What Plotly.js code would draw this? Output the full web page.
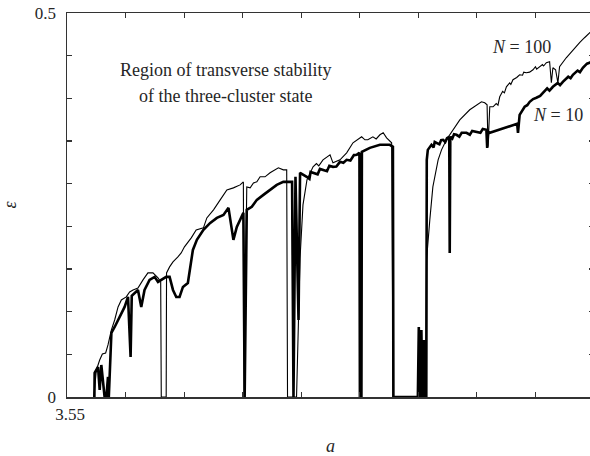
<!DOCTYPE html>
<html>
<head>
<meta charset="utf-8">
<script src="https://cdn.plot.ly/plotly-3.0.1.min.js"></script>
<style>
html,body{margin:0;padding:0;overflow:hidden;background:#fff;}
#chart{width:600px;height:456px;}
</style>
</head>
<body>
<div id="chart"></div>
<script>
// N = 100 (thin curve)
const aThin = [
  3.5728,3.5751,3.5779,3.5802,3.5830,3.5850,3.5879,3.5907,3.5936,3.5964,
  3.6006,3.6035,3.6064,3.6106,3.6149,3.6191,3.6234,3.6277,3.6300,3.6305,
  3.6347,3.6350,3.6376,3.6405,3.6447,3.6475,3.6503,3.6532,3.6561,3.6603,
  3.6665,3.6694,3.6751,3.6808,3.6865,3.6921,3.6978,3.7006,3.7012,3.7035,
  3.7064,3.7092,3.7121,3.7149,3.7191,3.7234,3.7277,3.7305,3.7347,3.7376,
  3.7383,3.7460,3.7490,3.7515,3.7549,3.7601,3.7630,3.7650,3.7686,3.7746,
  3.7771,3.7831,3.7888,3.7942,3.8016,3.8044,3.8069,3.8112,3.8140,3.8172,
  3.8200,3.8229,3.8272,3.8285,3.8564,3.8570,3.8598,3.8624,3.8669,3.8698,
  3.8740,3.8811,3.8854,3.8939,3.8996,3.9039,3.9067,3.9087,3.9095,3.9110,
  3.9138,3.9165,3.9180,3.9195,3.9220,3.9235,3.9252,3.9280,3.9290,3.9308,
  3.9340,3.9365,3.9390,3.9400,3.9422,3.9450,3.9479,3.9500,3.9510,3.9536,
  3.9560,3.9570,3.9593,3.9621,3.9636,3.9649,3.9672,3.9692,3.9706,3.9763,
  3.9820,3.9877,3.9919,3.9962,4.0];
const epsThin = [
  0,0.0352,0.0482,0.0560,0.0573,0.0678,0.0873,0.1003,0.1173,0.1264,
  0.1303,0.1368,0.1394,0.1420,0.1525,0.1616,0.1616,0.1551,0.1498,0,
  0,0.1616,0.1694,0.1759,0.1824,0.1876,0.1955,0.2007,0.2072,0.2176,
  0.2202,0.2332,0.2437,0.2567,0.2697,0.2723,0.2762,0.2801,0,0.2736,
  0.2723,0.2788,0.2801,0.2867,0.2867,0.2919,0.2958,0.2984,0.2958,0.2958,
  0,0,0.1811,0.2502,0.2828,0.2997,0.3040,0.3010,0.3088,0.3153,
  0.3049,0.3088,0.3179,0.3310,0.3388,0.3349,0.3349,0.3388,0.3360,0.3414,
  0.3440,0.3375,0.3310,0,0,0.1785,0.2306,0.2736,0.3088,0.3218,
  0.3349,0.3518,0.3609,0.3740,0.3805,0.3844,0.3831,0.3805,0.3258,0.3779,
  0.3779,0.3820,0.3800,0.3909,0.3980,0.3960,0.4039,0.4090,0.4070,0.4131,
  0.4160,0.4196,0.4190,0.4230,0.4222,0.4230,0.4261,0.4300,0.4270,0.4300,
  0.4330,0.4310,0.4352,0.4365,0.4091,0.4287,0.4261,0.4091,0.4300,0.4417,
  0.4521,0.4613,0.4678,0.4743,0.4795];

// N = 10 (thick curve)
const aThick = [
  3.5734,3.5736,3.5765,3.5779,3.5793,3.5821,3.5836,3.5850,3.5857,3.5879,
  3.5907,3.5949,3.5992,3.6021,3.6043,3.6053,3.6106,3.6134,3.6162,3.6205,
  3.6248,3.6277,3.6305,3.6347,3.6376,3.6405,3.6433,3.6461,3.6490,3.6532,
  3.6575,3.6609,3.6665,3.6723,3.6780,3.6836,3.6879,3.6893,3.6908,3.6921,
  3.6950,3.6978,3.7006,3.7017,3.7035,3.7078,3.7121,3.7177,3.7234,3.7291,
  3.7347,3.7376,3.7422,3.7434,3.7451,3.7477,3.7490,3.7547,3.7570,3.7580,
  3.7601,3.7640,3.7660,3.7686,3.7720,3.7740,3.7771,3.7800,3.7831,3.7860,
  3.7888,3.7920,3.7950,3.7973,3.7997,3.8001,3.8014,3.8018,3.8086,3.8172,
  3.8257,3.8283,3.8287,3.8496,3.8504,3.8513,3.8526,3.8534,3.8547,3.8555,
  3.8568,3.8572,3.8581,3.8612,3.8630,3.8640,3.8655,3.8680,3.8695,3.8711,
  3.8730,3.8745,3.8764,3.8768,3.8773,3.8790,3.8805,3.8826,3.8850,3.8870,
  3.8911,3.8940,3.8960,3.8996,3.9030,3.9050,3.9081,3.9088,3.9097,3.9110,
  3.9344,3.9351,3.9365,3.9408,3.9430,3.9451,3.9480,3.9508,3.9540,3.9564,
  3.9600,3.9620,3.9649,3.9690,3.9710,3.9734,3.9780,3.9800,3.9820,3.9860,
  3.9880,3.9905,3.9940,3.9962,4.0];
const epsThick = [
  0,0.0313,0.0391,0.0091,0.0417,0,0,0.0261,0,0.0834,
  0.0912,0.1042,0.1173,0.1303,0.0521,0.1316,0.1394,0.1173,0.1394,0.1525,
  0.1564,0.1498,0.1525,0.1564,0.1564,0.1394,0.1303,0.1303,0.1433,0.1485,
  0.1915,0.2046,0.2176,0.2267,0.2332,0.2371,0.2463,0.2306,0.2137,0.2046,
  0.2215,0.2306,0.2398,0,0.2437,0.2476,0.2567,0.2632,0.2697,0.2762,
  0.2801,0.2801,0.2801,0,0.2867,0.1003,0.2919,0.2867,0.2840,0.2930,
  0.2919,0.2900,0.2970,0.2958,0.2940,0.3010,0.2997,0.3000,0.3062,0.3050,
  0.3088,0.3080,0.3150,0.3153,0.3179,0,0,0.3192,0.3244,0.3284,
  0.3284,0.3258,0,0,0.0912,0,0.0873,0,0.0743,0,
  0,0.3088,0.3218,0.3284,0.3250,0.3320,0.3310,0.3290,0.3345,0.3349,
  0.3320,0.3370,0.3388,0.1876,0.3388,0.3365,0.3420,0.3414,0.3390,0.3440,
  0.3440,0.3415,0.3465,0.3453,0.3440,0.3490,0.3479,0.3244,0.3453,0.3440,
  0.3557,0.3440,0.3674,0.3779,0.3800,0.3844,0.3880,0.3896,0.3920,0.3961,
  0.4020,0.3990,0.4039,0.4090,0.4060,0.4104,0.4170,0.4150,0.4196,0.4250,
  0.4230,0.4287,0.4340,0.4352,0.4391];

// axis ticks
const xTickVals = [3.55,3.60,3.65,3.70,3.75,3.80,3.85,3.90,3.95,4.00];
const xTickText = ["3.55","","","","","","","","","4"];
const yTickVals = [0,0.0556,0.1111,0.1667,0.2222,0.2778,0.3333,0.3889,0.4444,0.5];
const yTickText = ["0","","","","","","","","","0.5"];

const serif = "Liberation Serif, Times New Roman, serif";
const txt = "#262626";

const traces = [
  {x: aThin, y: epsThin, type: "scatter", mode: "lines", name: "N = 100",
   line: {color: "#000", width: 1.1}, hoverinfo: "skip"},
  {x: aThick, y: epsThick, type: "scatter", mode: "lines", name: "N = 10",
   line: {color: "#000", width: 2.6}, hoverinfo: "skip"}
];

const axisCommon = {
  showgrid: false, zeroline: false, showline: true, linecolor: "#333", linewidth: 1.5,
  ticks: "inside", ticklen: 5, tickwidth: 1.2, tickcolor: "#333", mirror: "allticks",
  tickfont: {family: serif, size: 17, color: txt}, tickmode: "array"
};

const layout = {
  width: 600, height: 456,
  margin: {l: 67, r: 6, t: 13, b: 59},
  paper_bgcolor: "#fff", plot_bgcolor: "#fff",
  showlegend: false,
  xaxis: Object.assign({}, axisCommon, {
    range: [3.55, 4.0], tickvals: xTickVals, ticktext: xTickText,
    ticklabelstandoff: 1, ticklabelshift: 3,
    title: {text: "<i>a</i>", font: {family: serif, size: 18, color: txt}, standoff: 22}
  }),
  yaxis: Object.assign({}, axisCommon, {
    range: [0, 0.5], tickvals: yTickVals, ticktext: yTickText,
    ticklabelstandoff: 6,
    title: {text: "<i>ε</i>", font: {family: serif, size: 18, color: txt}, standoff: 14}
  }),
  annotations: [
    {x: 3.6850, y: 0.4261, xref: "x", yref: "y", text: "Region of transverse stability",
     showarrow: false, font: {family: serif, size: 18, color: txt}},
    {x: 3.6850, y: 0.3922, xref: "x", yref: "y", text: "of the three-cluster state",
     showarrow: false, font: {family: serif, size: 18, color: txt}},
    {x: 3.9110, y: 0.4561, xref: "x", yref: "y", xanchor: "left", text: "<i>N</i> = 100",
     showarrow: false, font: {family: serif, size: 18, color: txt}},
    {x: 3.9459, y: 0.3674, xref: "x", yref: "y", xanchor: "left", text: "<i>N</i> = 10",
     showarrow: false, font: {family: serif, size: 18, color: txt}}
  ]
};

Plotly.newPlot("chart", traces, layout, {displayModeBar: false, staticPlot: true});
</script>
</body>
</html>
